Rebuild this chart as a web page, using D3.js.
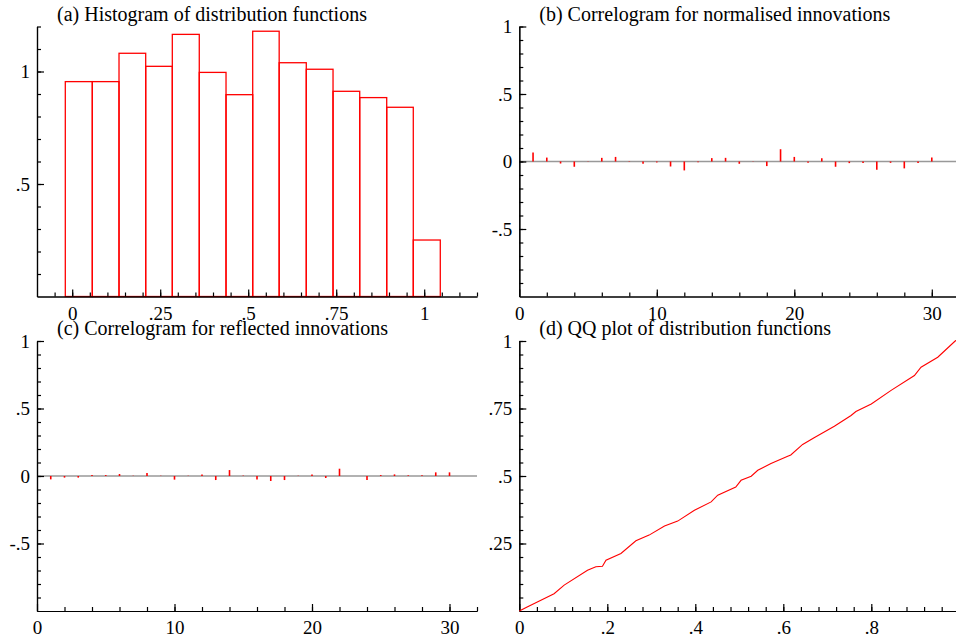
<!DOCTYPE html>
<html>
<head>
<meta charset="utf-8">
<script src="https://cdn.jsdelivr.net/npm/d3@7"></script>
<style>
  body { margin: 0; background: #fff; }
  svg text { font-family: "Liberation Serif", "Times New Roman", serif; font-size: 20px; fill: #000; }
</style>
</head>
<body>
<div id="chart"></div>
<script>
// (a) histogram: bin edges and bar heights
const histEdges = [-0.0196, 0.0571, 0.133, 0.2088, 0.2844, 0.361, 0.437, 0.5128, 0.588, 0.665, 0.741, 0.8168, 0.8935, 0.969, 1.0457];
const histHeights = [0.955, 0.955, 1.081, 1.023, 1.165, 0.996, 0.897, 1.179, 1.039, 1.01, 0.912, 0.884, 0.841, 0.251];

// (b) and (c) correlograms, lags 1..30
const lags = d3.range(1, 31);
const acfNormalised = [0.066, 0.029, -0.015, -0.039, 0.002, 0.027, 0.034, -0.003, -0.017, -0.007,
  -0.037, -0.066, -0.005, 0.025, 0.027, -0.017, 0.002, -0.034, 0.091, 0.034,
  -0.01, 0.025, -0.039, -0.012, -0.012, -0.061, -0.01, -0.051, -0.012, 0.029];
const acfReflected = [-0.025, -0.012, -0.012, 0.007, 0.007, 0.015, 0.002, 0.022, 0.002, -0.027,
  0.002, 0.012, -0.03, 0.044, 0.003, -0.025, -0.037, -0.03, 0.002, 0.012,
  -0.015, 0.054, 0.0, -0.03, 0.007, 0.012, 0.005, 0.005, 0.027, 0.027];

// (d) QQ plot points
const qqX = [0, 0.019, 0.079, 0.102, 0.155, 0.174, 0.189, 0.197, 0.231, 0.265, 0.295, 0.33, 0.36, 0.398, 0.436, 0.451,
  0.492, 0.504, 0.527, 0.542, 0.572, 0.61, 0.617, 0.644, 0.67, 0.716, 0.754, 0.765, 0.8, 0.845, 0.898, 0.913, 0.951, 0.99, 1.0];
const qqY = [0, 0.016, 0.064, 0.096, 0.151, 0.164, 0.166, 0.188, 0.213, 0.26, 0.281, 0.315, 0.333, 0.373, 0.404, 0.429,
  0.459, 0.484, 0.499, 0.521, 0.546, 0.573, 0.578, 0.617, 0.642, 0.684, 0.724, 0.739, 0.767, 0.817, 0.872, 0.903, 0.94, 0.999, 1.01];

// tick values and labels
const histXTicks = [0, 0.25, 0.5, 0.75, 1];
const histXLabels = ["0", ".25", ".5", ".75", "1"];
const histYTicks = [0.5, 1];
const histYLabels = [".5", "1"];
const lagTicks = [0, 10, 20, 30];
const lagLabels = ["0", "10", "20", "30"];
const acfYTicks = [-0.5, 0, 0.5, 1];
const acfYLabels = ["-.5", "0", ".5", "1"];
const qqXTicks = [0, 0.2, 0.4, 0.6, 0.8];
const qqXLabels = ["0", ".2", ".4", ".6", ".8"];
const qqYTicks = [0.25, 0.5, 0.75, 1];
const qqYLabels = [".25", ".5", ".75", "1"];

const W = 956, H = 641;
const svg = d3.select("#chart").append("svg").attr("width", W).attr("height", H);

const red = "#ff0000";

//draws one panel frame with axes and minor ticks, returns the scales
function panel(opt) {
  const g = svg.append("g").attr("transform", `translate(${opt.left},${opt.top})`);
  const w = 440, h = 270;
  const x = d3.scaleLinear().domain(opt.xDomain).range([0, w]);
  const y = d3.scaleLinear().domain(opt.yDomain).range([h, 0]);

  const fmt = (vals, labs) => d => labs[vals.indexOf(d)];

  //minor ticks first
  g.append("g").attr("transform", `translate(0,${h})`)
    .call(d3.axisBottom(x).tickValues(opt.xMinor).tickSizeInner(-4).tickSizeOuter(0).tickFormat(""));
  g.append("g")
    .call(d3.axisLeft(y).tickValues(opt.yMinor).tickSizeInner(-4).tickSizeOuter(0).tickFormat(""));

  //major ticks with labels
  g.append("g").attr("transform", `translate(0,${h})`)
    .call(d3.axisBottom(x).tickValues(opt.xTicks).tickSizeInner(-7).tickSizeOuter(0).tickPadding(10)
      .tickFormat(fmt(opt.xTicks, opt.xLabels)));
  g.append("g")
    .call(d3.axisLeft(y).tickValues(opt.yTicks).tickSizeInner(-7).tickSizeOuter(0).tickPadding(7)
      .tickFormat(fmt(opt.yTicks, opt.yLabels)));

  g.selectAll(".domain, .tick line").attr("stroke", "#000").attr("stroke-width", 1.2);
  g.selectAll(".tick text").style("font-family", '"Liberation Serif", serif').style("font-size", "19px");

  svg.append("text").attr("x", opt.left + 20).attr("y", opt.top - 6).text(opt.title);
  return {g, x, y, w, h};
}

function minorRange(a, b, step) {
  const out = [];
  for (let v = a; v <= b + 1e-9; v += step) out.push(+v.toFixed(4));
  return out;
}

// (a) Histogram
const pa = panel({
  left: 37, top: 26.5, title: "(a) Histogram of distribution functions",
  xDomain: [-0.1, 1.15], yDomain: [0, 1.2],
  xTicks: histXTicks, xLabels: histXLabels, yTicks: histYTicks, yLabels: histYLabels,
  xMinor: minorRange(-0.05, 1.15, 0.05), yMinor: minorRange(0.1, 1.2, 0.1)
});
pa.g.insert("g", ":first-child").selectAll("rect").data(histHeights).join("rect")
  .attr("x", (d, i) => pa.x(histEdges[i]))
  .attr("width", (d, i) => pa.x(histEdges[i + 1]) - pa.x(histEdges[i]))
  .attr("y", d => pa.y(d))
  .attr("height", d => pa.y(0) - pa.y(d))
  .attr("fill", "none").attr("stroke", red).attr("stroke-width", 1.3);

// correlogram helper
function correlogram(p, values) {
  p.g.insert("line", ":first-child")
    .attr("x1", 0).attr("x2", p.w).attr("y1", p.y(0)).attr("y2", p.y(0))
    .attr("stroke", "#999").attr("stroke-width", 1.5);
  p.g.append("g").selectAll("line").data(values).join("line")
    .attr("x1", (d, i) => p.x(lags[i])).attr("x2", (d, i) => p.x(lags[i]))
    .attr("y1", p.y(0)).attr("y2", d => p.y(d))
    .attr("stroke", red).attr("stroke-width", 1.6);
}

// (b)
const pb = panel({
  left: 519.3, top: 26.5, title: "(b) Correlogram for normalised innovations",
  xDomain: [0, 32], yDomain: [-1, 1],
  xTicks: lagTicks, xLabels: lagLabels, yTicks: acfYTicks, yLabels: acfYLabels,
  xMinor: minorRange(2, 32, 2), yMinor: minorRange(-0.9, 1, 0.1)
});
correlogram(pb, acfNormalised);

// (c)
const pc = panel({
  left: 37, top: 341, title: "(c) Correlogram for reflected innovations",
  xDomain: [0, 32], yDomain: [-1, 1],
  xTicks: lagTicks, xLabels: lagLabels, yTicks: acfYTicks, yLabels: acfYLabels,
  xMinor: minorRange(2, 32, 2), yMinor: minorRange(-0.9, 1, 0.1)
});
correlogram(pc, acfReflected);

// (d) QQ plot
const pd = panel({
  left: 519.3, top: 341, title: "(d) QQ plot of distribution functions",
  xDomain: [0, 1], yDomain: [0, 1],
  xTicks: qqXTicks, xLabels: qqXLabels, yTicks: qqYTicks, yLabels: qqYLabels,
  xMinor: minorRange(0.04, 1, 0.04), yMinor: minorRange(0.05, 1, 0.05)
});
const qqLine = d3.line().x((d, i) => pd.x(qqX[i])).y(d => pd.y(d));
pd.g.append("path").datum(qqY)
  .attr("fill", "none").attr("stroke", red).attr("stroke-width", 1.1)
  .attr("d", qqLine);
</script>
</body>
</html>
